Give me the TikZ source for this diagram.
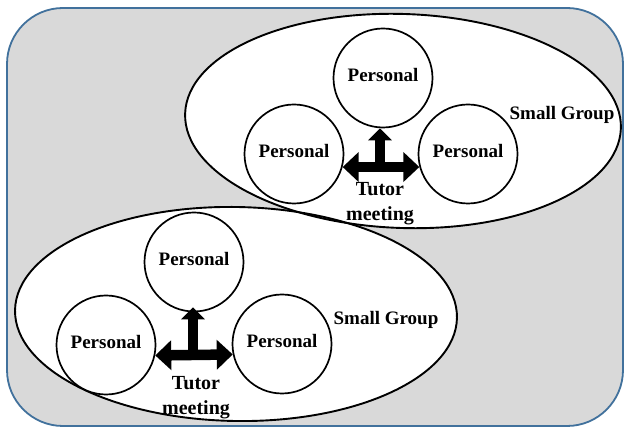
\documentclass[tikz,border=0pt]{standalone}
\usepackage{fontspec}
\setmainfont{Liberation Serif}
\usetikzlibrary{shapes.geometric,arrows.meta}
\definecolor{bgfill}{HTML}{D9D9D9}
\definecolor{bgedge}{HTML}{41719C}
\begin{document}
\begin{tikzpicture}[x=1pt,y=-1pt,
  person/.style={circle,draw,line width=1.7pt,fill=white,minimum size=99pt,inner sep=0pt,text depth=6pt,font=\fontsize{19}{20}\selectfont\bfseries},
  ellfill/.style={fill=white},
  elledge/.style={draw=black,line width=1.9pt},
  grouplbl/.style={anchor=base,inner sep=0pt,font=\fontsize{19}{22}\selectfont\bfseries},
  tutorlbl/.style={anchor=north,inner sep=0pt,align=center,font=\fontsize{20}{25}\selectfont\bfseries},
  harrow/.style={line width=10.5pt,{Triangle[length=16pt,width=29pt]}-{Triangle[length=16pt,width=29pt]}},
  varrow/.style={line width=10.5pt,-{Triangle[length=12pt,width=23pt]}},
]
\useasboundingbox (0,0) rectangle (625,430);
\draw[fill=bgfill,draw=bgedge,line width=1.8pt,rounded corners=56pt] (7,8) rectangle (623,426);

% group ellipses
\fill[ellfill,rotate around={-1:(236,314)}] (236,314) ellipse [x radius=221, y radius=107];
\fill[ellfill,rotate around={-2:(403,121)}] (403,121) ellipse [x radius=218, y radius=107];
\draw[elledge,rotate around={-1:(236,314)}] (236,314) ellipse [x radius=221, y radius=107];
\draw[elledge,rotate around={-2:(403,121)}] (403,121) ellipse [x radius=218, y radius=107];

% upper group
\node[person] (aT) at (383,78) {Personal};
\node[person] (aL) at (294,154) {Personal};
\node[person] (aR) at (468,154) {Personal};
\coordinate (aJ) at (380,167);
\draw[harrow] (aL.-15) -- (aR.195);
\draw[varrow] (aJ) -- (aJ |- aT.south);
\node[tutorlbl] (aTut) at (380,182) {Tutor\\meeting};
\node[grouplbl] (aGrp) at (562,120) {Small Group};

% lower group
\node[person] (bT) at (194,262) {Personal};
\node[person] (bL) at (106,345) {Personal};
\node[person] (bR) at (282,344) {Personal};
\coordinate (bJ) at (193,355);
\draw[harrow] (bL.-12) -- (bR.192);
\draw[varrow] (bJ) -- ([yshift=5pt]bJ |- bT.south);
\node[tutorlbl] (bTut) at (196,376) {Tutor\\meeting};
\node[grouplbl] (bGrp) at (386,325) {Small Group};
\end{tikzpicture}
\end{document}
